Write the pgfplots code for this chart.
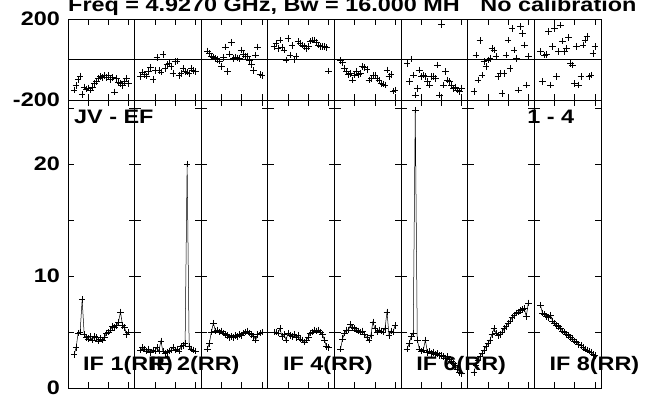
\documentclass[border=0pt]{standalone}
\usepackage{fontspec}
\newfontfamily\pf{Liberation Sans}[FakeStretch=1.2]
\usepackage{pgfplots}
\usepackage{pgfplotstable}
\pgfplotsset{compat=1.18}
\usepgfplotslibrary{groupplots}

% channel, amplitude per IF (a1..a8), phase per IF (p1..p8)
\pgfplotstableread{
ch a1  a2   a3  a4  a5  a6   a7  a8  p1   p2   p3  p4   p5   p6   p7   p8
3  3.0 3.4  3.5 5.0 3.5 3.5  1.4 7.4 -150 -85  42  63   -5   -19  -159 39
4  3.6 3.6  4.0 5.0 4.4 4.0  2.0 6.7 -128 -62  30  80   -15  -109 22   -109
5  4.9 3.5  5.0 4.9 4.9 4.6  2.5 6.6 -100 -75  18  55   -44  2    -101 22
6  5.0 3.3  5.8 5.3 5.2 4.9  2.8 6.4 -82  -82  12  96   -60  -77  93   26
7  7.9 3.5  5.1 4.6 5.2 24.8 3.1 6.3 -172 -60  5   58   -73  -175 -77  137
8  4.8 3.2  5.2 4.8 5.7 4.3  3.4 6.5 -135 -40  0   47   -68  -142 -11  -126
9  4.5 3.4  5.0 4.3 5.4 3.5  3.7 6.0 -145 -100 -8  -2   -101 -52  -35  63
10 4.4 3.3  5.1 4.9 5.3 3.3  4.0 5.8 -140 -55  -35 105  -77  -85  -2   154
11 4.6 3.6  4.9 4.7 5.2 3.4  4.3 5.6 -150 9    10  22   -60  -77  6    -85
12 4.3 3.3  4.8 4.6 5.1 4.3  4.8 5.5 -138 -55  62  70   -73  -85  55   39
13 4.6 4.2  4.7 4.8 5.0 3.2  5.3 5.3 -118 -62  -60 0    -68  -109 47   170
14 4.5 3.3  4.5 4.5 5.1 3.3  4.9 5.1 -110 25   28  14   -35  -126 14   91
15 4.2 3.1  4.6 4.7 4.8 3.1  4.7 5.0 -95  -45  85  88   -40  -85  -85  39
16 4.4 3.2  4.5 4.4 4.5 3.2  4.8 4.8 -85  -25  6   80   -50  -85  -68  55
17 4.3 3.3  4.7 4.3 4.3 3.0  5.0 4.7 -90  -20  12  72   -101 -93  -167 108
18 4.5 3.4  4.6 4.1 4.7 3.1  5.3 4.5 -80  -35  8   63   -93  -27  -68  -19
19 4.9 3.6  4.8 4.3 5.9 2.9  5.5 4.4 -88  -68  5   55   -80  -175 22   -27
20 5.0 3.4  4.7 4.5 5.3 2.9  5.8 4.2 -78  -10  47  63   -77  174  96   -118
21 5.2 3.5  4.9 4.9 5.0 2.8  6.0 4.1 -100 -8   25  91   -93  -126 -44  63
22 5.5 3.3  5.0 5.0 5.2 2.7  6.3 3.9 -90  -78  15  96   -105 -60  154  -126
23 5.4 3.7  5.1 5.2 5.1 2.8  6.5 3.8 -160 -70  18  96   -118 -101 47   -85
24 5.6 3.8  4.9 5.1 5.0 2.6  6.7 3.6 -95  -45  -5  85   -120 -109 6    72
25 5.9 4.0  4.8 5.2 5.3 2.4  6.8 3.5 -112 -58  -25 72   -126 -126 -151 96
26 6.8 20.0 4.6 5.0 6.8 2.2  6.9 3.4 -118 -62  -55 63   -52  -142 162  113
27 5.6 3.7  4.3 4.8 4.7 2.0  7.0 3.3 -128 -70  22  63   -85  -135 129  -85
28 5.4 3.5  4.8 4.3 5.1 1.7  7.1 3.2 -110 -45  62  65   -73  -151 72   -77
29 4.8 3.4  4.9 3.7 5.0 1.4  6.4 3.0 -92  -55  -75 60   -156 -159 -126 30
30 5.0 3.3  5.0 3.6 5.6 1.3  7.6 2.9 -118 -60  -80 -57  -150 -140 15   63
}\data

\pgfplotsset{
  top/.style={height=81bp, ymin=-200, ymax=200, ytick={-200,0,200},
    ymajorgrids, grid style={black, line width=0.6bp}},
  bot/.style={height=288bp, ymin=0, ymax=25.7, ytick={0,5,...,25}},
  ph/.style={only marks, mark=+, mark size=3.3bp, mark options={line width=0.6bp}},
  am/.style={black, line width=0.5bp, mark=+, mark size=3.3bp, mark options={line width=0.6bp}},
}
\newcommand{\bigf}{\pf\bfseries\fontsize{19.5bp}{20bp}\selectfont}

\begin{document}
\begin{tikzpicture}
\begin{groupplot}[
  group style={group size=8 by 2, horizontal sep=0pt, vertical sep=0pt},
  scale only axis, width=66.6bp,
  xmin=0, xmax=33, xtick={10,20,30}, xticklabels={},
  xtick pos=both, ytick pos=both, tick align=inside,
  major tick length=6bp,
  axis line style={line width=0.8bp},
  every tick/.style={black, line width=0.6bp},
  yticklabels={},
  tick label style={font=\bigf},
  yticklabel style={inner sep=0pt, xshift=-8bp},
  /pgf/number format/assume math mode=true,
]
\nextgroupplot[top, yticklabels={-200,,200}]
\addplot[ph] table[x=ch, y=p1]{\data};
\nextgroupplot[top]
\addplot[ph] table[x=ch, y=p2]{\data};
\nextgroupplot[top]
\addplot[ph] table[x=ch, y=p3]{\data};
\nextgroupplot[top]
\addplot[ph] table[x=ch, y=p4]{\data};
\nextgroupplot[top]
\addplot[ph] table[x=ch, y=p5]{\data};
\nextgroupplot[top]
\addplot[ph] table[x=ch, y=p6]{\data};
\nextgroupplot[top]
\addplot[ph] table[x=ch, y=p7]{\data};
\nextgroupplot[top]
\addplot[ph] table[x=ch, y=p8]{\data};

\nextgroupplot[bot, yticklabels={0,,10,,20,}]
\addplot[am] table[x=ch, y=a1]{\data};
\nextgroupplot[bot]
\addplot[am] table[x=ch, y=a2]{\data};
\nextgroupplot[bot]
\addplot[am] table[x=ch, y=a3]{\data};
\nextgroupplot[bot]
\addplot[am] table[x=ch, y=a4]{\data};
\nextgroupplot[bot]
\addplot[am] table[x=ch, y=a5]{\data};
\nextgroupplot[bot]
\addplot[am] table[x=ch, y=a6]{\data};
\nextgroupplot[bot]
\addplot[am] table[x=ch, y=a7]{\data};
\nextgroupplot[bot]
\addplot[am] table[x=ch, y=a8]{\data};
\end{groupplot}

\node[anchor=base west, inner sep=0pt, font=\bigf] at ([yshift=7bp]group c1r1.north west) {Freq = 4.9270 GHz, Bw = 16.000 MH};
\node[anchor=base west, inner sep=0pt, font=\bigf] at ([xshift=412bp, yshift=7bp]group c1r1.north west) {No calibration};
\node[anchor=north west, inner sep=0pt, font=\bigf] at ([xshift=6bp, yshift=-10bp]group c1r2.north west) {JV - EF};
\node[anchor=north west, inner sep=0pt, font=\bigf] at ([xshift=459bp, yshift=-10bp]group c1r2.north west) {1 - 4};
\node[anchor=base west, inner sep=0pt, font=\bigf] at ([xshift=15bp, yshift=18bp]group c1r2.south west) {IF 1(RR)};
\node[anchor=base west, inner sep=0pt, font=\bigf] at ([xshift=15bp, yshift=18bp]group c2r2.south west) {IF 2(RR)};
\node[anchor=base west, inner sep=0pt, font=\bigf] at ([xshift=15bp, yshift=18bp]group c4r2.south west) {IF 4(RR)};
\node[anchor=base west, inner sep=0pt, font=\bigf] at ([xshift=15bp, yshift=18bp]group c6r2.south west) {IF 6(RR)};
\node[anchor=base west, inner sep=0pt, font=\bigf] at ([xshift=15bp, yshift=18bp]group c8r2.south west) {IF 8(RR)};

\pgfresetboundingbox
\path[use as bounding box] ([xshift=-68bp, yshift=19bp]group c1r1.north west) rectangle ([xshift=44bp, yshift=-7bp]group c8r2.south east);
\end{tikzpicture}
\end{document}
